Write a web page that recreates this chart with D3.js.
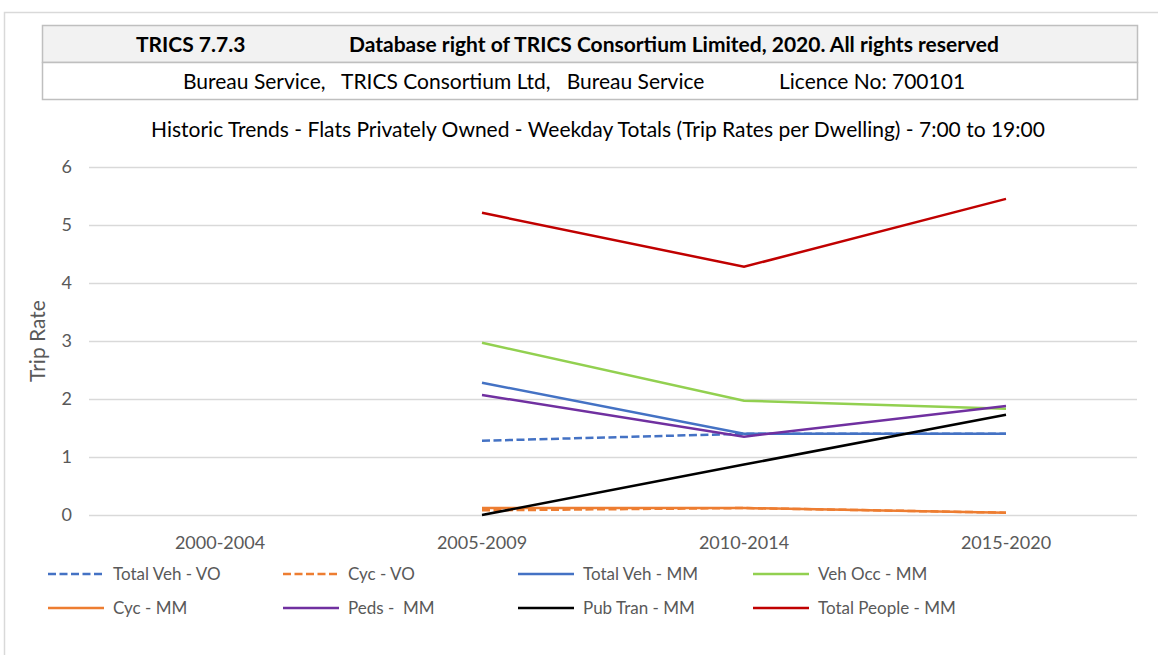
<!DOCTYPE html>
<html>
<head>
<meta charset="utf-8">
<script src="https://cdn.jsdelivr.net/npm/d3@7"></script>
<style>
  body { margin: 0; background: #fff; }
  svg { display: block; font-family: Lato, "Open Sans", sans-serif; }
</style>
</head>
<body>
<div id="chart"></div>
<script>
// chart data
const periods = ["2000-2004", "2005-2009", "2010-2014", "2015-2020"];
const yTicks = [0, 1, 2, 3, 4, 5, 6];

const totalVehVO = [null, 1.28, 1.40, 1.40];
const cycVO = [null, 0.08, 0.12, 0.04];
const totalVehMM = [null, 2.28, 1.40, 1.40];
const vehOccMM = [null, 2.97, 1.97, 1.83];
const cycMM = [null, 0.12, 0.12, 0.04];
const pedsMM = [null, 2.07, 1.35, 1.88];
const pubTranMM = [null, 0.00, 0.87, 1.73];
const totalPeopleMM = [null, 5.21, 4.28, 5.45];

const seriesNames = ["Total Veh - VO", "Cyc - VO", "Total Veh - MM", "Veh Occ - MM",
    "Cyc - MM", "Peds -  MM", "Pub Tran - MM", "Total People - MM"];
const seriesValues = [totalVehVO, cycVO, totalVehMM, vehOccMM, cycMM, pedsMM, pubTranMM, totalPeopleMM];
const seriesColors = ["#4472c4", "#ed7d31", "#4472c4", "#92d050", "#ed7d31", "#7030a0", "#000000", "#c00000"];
const seriesDashed = [true, true, false, false, false, false, false, false];

const headerRow1 = ["TRICS 7.7.3", "Database right of TRICS Consortium Limited, 2020. All rights reserved"];
const headerRow2 = ["Bureau Service,   TRICS Consortium Ltd,   Bureau Service", "Licence No: 700101"];
const chartTitle = "Historic Trends - Flats Privately Owned - Weekday Totals (Trip Rates per Dwelling) - 7:00 to 19:00";

// canvas
const canvW = 1158, canvH = 655;
const margin = {top: 167, right: 21, bottom: 140, left: 89};
const plotW = canvW - margin.left - margin.right;
const plotH = canvH - margin.top - margin.bottom;

const svgRoot = d3.select("#chart")
    .append("svg")
    .attr("width", canvW)
    .attr("height", canvH);

// outer chart border
svgRoot.append("rect")
    .attr("x", 4.5).attr("y", 12.5)
    .attr("width", canvW + 20).attr("height", canvH + 20)
    .attr("fill", "none")
    .attr("stroke", "#d9d9d9")
    .attr("stroke-width", 1.5);

// header table
const hdr = svgRoot.append("g");
hdr.append("rect").attr("x", 42.5).attr("y", 25.5).attr("width", 1095).attr("height", 37)
    .attr("fill", "#f2f2f2").attr("stroke", "#bfbfbf").attr("stroke-width", 1.5);
hdr.append("rect").attr("x", 42.5).attr("y", 62.5).attr("width", 1095).attr("height", 37)
    .attr("fill", "#fff").attr("stroke", "#bfbfbf").attr("stroke-width", 1.5);
hdr.append("text").attr("x", 136).attr("y", 52).attr("font-weight", "bold")
    .style("font-size", "21px").attr("fill", "#000").text(headerRow1[0]);
hdr.append("text").attr("x", 349).attr("y", 52).attr("font-weight", "bold")
    .style("font-size", "21px").attr("fill", "#000").text(headerRow1[1]);
hdr.append("text").attr("x", 183).attr("y", 89)
    .style("white-space", "pre")
    .style("font-size", "21px").attr("fill", "#000").text(headerRow2[0]);
hdr.append("text").attr("x", 779).attr("y", 89)
    .style("font-size", "21px").attr("fill", "#000").text(headerRow2[1]);

// title
svgRoot.append("text")
    .attr("x", 598).attr("y", 137)
    .style("text-anchor", "middle")
    .style("font-size", "21px")
    .attr("fill", "#000")
    .text(chartTitle);

const svg = svgRoot.append("g")
    .attr("transform", `translate(${margin.left},${margin.top})`);

// scales
const x = d3.scaleBand().domain(periods).range([0, plotW]);
const y = d3.scaleLinear().domain([0, 6]).range([plotH, 0]);

// gridlines
svg.append("g")
    .attr("class", "grid")
    .call(d3.axisLeft(y).tickValues(yTicks).tickSize(-plotW).tickFormat(""))
    .call(g => g.select(".domain").remove())
    .selectAll("line")
    .attr("stroke", "#d9d9d9")
    .attr("stroke-width", 1.5);

// Y axis labels
svg.append("g")
    .call(d3.axisLeft(y).tickValues(yTicks).tickSize(0).tickPadding(17).tickFormat(d3.format("d")))
    .call(g => g.select(".domain").remove())
    .selectAll("text")
    .attr("fill", "#595959")
    .style("font-size", "18px")
    .attr("font-family", "Lato, sans-serif");

// X axis labels
svg.append("g")
    .attr("transform", `translate(0,${plotH})`)
    .call(d3.axisBottom(x).tickSize(0).tickPadding(21))
    .call(g => g.select(".domain").remove())
    .selectAll("text")
    .attr("fill", "#595959")
    .style("font-size", "18px")
    .attr("font-family", "Lato, sans-serif");

// y axis title
svg.append("text")
    .attr("transform", "rotate(-90)")
    .attr("x", -y(3))
    .attr("y", -44)
    .style("text-anchor", "middle")
    .style("font-size", "21px")
    .attr("fill", "#595959")
    .text("Trip Rate");

// lines
const line = d3.line()
    .defined(d => d.v !== null)
    .x(d => x(d.p) + x.bandwidth() / 2)
    .y(d => y(d.v));

seriesNames.forEach((name, i) => {
    const pts = periods.map((p, j) => ({p: p, v: seriesValues[i][j]}));
    svg.append("path")
        .datum(pts)
        .attr("fill", "none")
        .attr("stroke", seriesColors[i])
        .attr("stroke-width", 2.5)
        .attr("stroke-dasharray", seriesDashed[i] ? "8,3.5" : null)
        .attr("d", line);
});

// legend
const legend = svgRoot.append("g");
seriesNames.forEach((name, i) => {
    const col = i % 4, row = Math.floor(i / 4);
    const lx = 48 + col * 235, ly = 574 + row * 34;
    legend.append("line")
        .attr("x1", lx).attr("x2", lx + 56)
        .attr("y1", ly).attr("y2", ly)
        .attr("stroke", seriesColors[i])
        .attr("stroke-width", 2.5)
        .attr("stroke-dasharray", seriesDashed[i] ? "8,3.5" : null);
    legend.append("text")
        .attr("x", lx + 65).attr("y", ly + 6)
        .style("font-size", "17px")
        .style("white-space", "pre")
        .attr("fill", "#595959")
        .text(name);
});
</script>
</body>
</html>
